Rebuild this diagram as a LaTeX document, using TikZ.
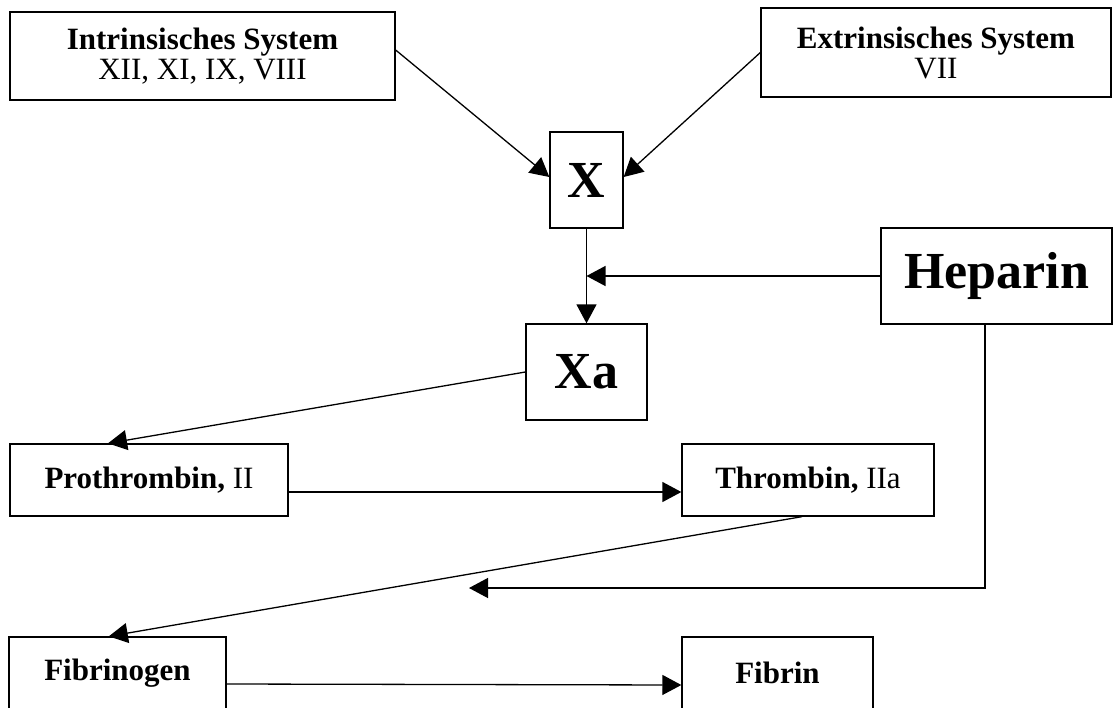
\documentclass[tikz,border=0pt]{standalone}
\usepackage{fontspec}
\setmainfont{Liberation Serif}
\usetikzlibrary{arrows.meta,calc}
\begin{document}
\begin{tikzpicture}[x=1pt,y=-1pt,
  box/.style={draw, line width=1.3pt, rectangle, inner sep=0pt, align=center},
  small/.style={font=\fontsize{31}{30}\selectfont},
  big/.style={font=\bfseries\fontsize{52}{56}\selectfont},
  arr/.style={line width=1.3pt, -{Triangle[length=19pt,width=20pt]}}]
\useasboundingbox (0,0) rectangle (1114,707);
\node[box,small,minimum width=385pt,minimum height=88pt] (intr) at (202.5,56) {\textbf{Intrinsisches System}\\XII, XI, IX, VIII};
\node[box,small,minimum width=350pt,minimum height=89pt] (extr) at (936,52.5) {\textbf{Extrinsisches System}\\VII};
\node[box,big,minimum width=73pt,minimum height=96pt] (X) at (586.5,180) {X};
\node[box,big,minimum width=231pt,minimum height=96pt] (hep) at (996.5,276) {Heparin};
\node[box,big,minimum width=121pt,minimum height=96pt] (Xa) at (586.5,372) {Xa};
\node[box,small,minimum width=278pt,minimum height=72pt] (pro) at (149,480) {\textbf{Prothrombin,} II};
\node[box,small,minimum width=252pt,minimum height=72pt] (thr) at (808,480) {\textbf{Thrombin,} IIa};
\node[box,small,minimum width=217pt,minimum height=72pt] (fgn) at (117.5,673) {\textbf{Fibrinogen}};
\node[box,small,minimum width=191pt,minimum height=72pt] (fbr) at (777.5,673) {\textbf{Fibrin}};
\draw[arr] ($(intr.east)+(0,-6)$) -- ($(X.west)+(0,-3)$);
\draw[arr] (extr.west) -- ($(X.east)+(0,-3)$);
\draw[arr] (X.south) -- (Xa.north);
\draw[arr] (hep.west) -- ($(X.south)!.5!(Xa.north)$);
\draw[arr] (Xa.west) -- ($(pro.north west)!.353!(pro.north east)$);
\draw[arr] ($(pro.east)+(0,12)$) -- ($(thr.west)+(0,12)$);
\draw[arr] ($(thr.south)+(-6,0)$) -- ($(fgn.north west)!.46!(fgn.north east)$);
\coordinate (hepend) at (469,588);
\draw[arr] ($(hep.south)+(-11.5,0)$) |- (hepend);
\draw[arr] ($(fgn.east)+(0,11)$) -- ($(fbr.west)+(0,12)$);
\end{tikzpicture}
\end{document}
